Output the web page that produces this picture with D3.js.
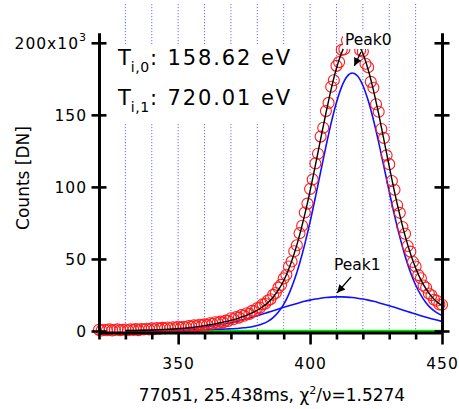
<!DOCTYPE html>
<html>
<head>
<meta charset="utf-8">
<script src="https://cdn.jsdelivr.net/npm/d3@7"></script>
<style>
	body { margin: 0; background: #fff; }
	svg { display: block; font-family: 'DejaVu Sans', sans-serif; }
</style>
</head>
<body>
<div id="chart"></div>
<script>
// measured spectrum, one point per unit starting at firstX (counts in 10^3)
const firstX = 320
const counts = [
	0.8, 0.3, 0.9, 0.5, 1.1, 0.4, 0.7, 1.2, 0.6, 0.9,
	1.0, 0.5, 1.2, 0.8, 1.3, 0.6, 1.4, 1.0, 1.6, 1.1,
	1.8, 1.2, 2.0, 1.5, 2.2, 1.7, 2.4, 1.9, 2.6, 2.0,
	2.9, 2.3, 3.0, 2.6, 3.5, 2.9, 3.9, 3.4, 4.3, 4.0,
	4.6, 4.1, 5.4, 5.0, 6.1, 5.6, 6.5, 6.0, 7.2, 6.9,
	8.9, 8.2, 9.6, 9.3, 11.0, 10.6, 12.3, 11.9, 14.0, 13.7,
	15.9, 16.2, 18.5, 18.9, 21.2, 22.0, 25.1, 26.4, 30.1, 32.0,
	36.5, 39.0, 44.8, 48.2, 55.3, 59.5, 67.9, 73.0, 82.2, 88.4,
	98.6, 105.2, 116.3, 123.0, 134.9, 141.0, 152.6, 158.3, 169.5, 174.0,
	184.0, 186.6, 195.1, 195.5, 201.8, 200.0, 203.5, 199.7, 201.2, 194.8,
	193.9, 185.5, 183.0, 172.9, 168.8, 157.4, 152.1, 140.2, 134.0, 121.9,
	115.8, 104.1, 98.0, 87.3, 82.0, 72.2, 67.5, 59.0, 55.1, 47.9,
	44.8, 38.8, 36.6, 31.6, 30.0, 26.0, 24.8, 21.7, 21.0, 18.4,
	18.2,
]

// fit curves sampled every 2 units from 330 to 450
const fitStart = 330
const fitStep = 2
const peak0 = [
	0.2, 0.2, 0.2, 0.3, 0.3, 0.3, 0.4, 0.4, 0.5, 0.5,
	0.6, 0.6, 0.7, 0.8, 0.9, 1.0, 1.1, 1.2, 1.3, 1.4,
	1.55, 1.7, 2.1, 2.4, 3.0, 3.8, 5.0, 6.7, 9.3, 13.2,
	18.5, 25.8, 35.2, 46.7, 60.3, 75.7, 92.7, 110.4, 127.9, 144.4,
	158.6, 169.6, 176.6, 179.0, 176.9, 170.4, 160.1, 146.6, 130.9, 113.9,
	96.7, 80.2, 65.3, 52.1, 41.0, 31.9, 24.9, 19.5, 15.5, 12.7,
	10.8,
]
const peak1 = [
	0.1, 0.13, 0.17, 0.22, 0.28, 0.36, 0.45, 0.56, 0.7, 0.87,
	1.07, 1.3, 1.58, 1.91, 2.28, 2.72, 3.21, 3.76, 4.39, 5.08,
	5.84, 6.68, 7.58, 8.54, 9.57, 10.64, 11.76, 12.92, 14.08, 15.25,
	16.41, 17.55, 18.63, 19.65, 20.59, 21.43, 22.15, 22.75, 23.21, 23.52,
	23.68, 23.68, 23.52, 23.21, 22.75, 22.15, 21.43, 20.59, 19.65, 18.63,
	17.55, 16.41, 15.25, 14.08, 12.92, 11.76, 10.64, 9.57, 8.54, 7.58,
	6.68,
]
const fitTotal = [
	0.3, 0.3, 0.4, 0.5, 0.6, 0.7, 0.9, 1.0, 1.2, 1.4,
	1.7, 1.9, 2.3, 2.7, 3.2, 3.7, 4.3, 5.0, 5.7, 6.5,
	7.4, 8.4, 9.7, 10.9, 12.6, 14.4, 16.8, 19.6, 23.4, 28.5,
	34.9, 43.4, 53.8, 66.4, 80.9, 97.1, 114.9, 133.2, 151.1, 167.9,
	182.3, 193.3, 200.1, 202.2, 199.7, 192.6, 181.5, 167.2, 150.6, 132.5,
	114.3, 96.6, 80.6, 66.2, 53.9, 43.7, 35.5, 29.1, 24.0, 20.3,
	17.5,
]
const baselineX = [330, 450]
const baseline = [0, 0]

const gridX = [330, 340, 350, 360, 370, 380, 390, 400, 410, 420, 430, 440]
const xTicks = [320, 330, 340, 350, 360, 370, 380, 390, 400, 410, 420, 430, 440, 450]
const xLabels = [350, 400, 450]
const yTicks = [0, 50, 100, 150, 200]

const tempLines = [
	{ sub: 'i,0', value: '158.62 eV' },
	{ sub: 'i,1', value: '720.01 eV' },
]
const peakNotes = [
	{ name: 'Peak0', at: 416, on: 179 },
	{ name: 'Peak1', at: 411, on: 23.7 },
]
const title = '77051, 25.438ms, '

const width = 459
const height = 409
const plotLeft = 99
const plotRight = 442
const plotTop = 33
const plotBottom = 331

const x = d3.scaleLinear().domain([320, 450]).range([plotLeft, plotRight])
const y = d3.scaleLinear().domain([0, 206.8]).range([plotBottom, plotTop])

const svg = d3.select('#chart').append('svg').attr('width', width).attr('height', height)

//dotted guide lines, they run above the plot frame
svg.append('g')
	.selectAll('line')
	.data(gridX)
	.join('line')
	.attr('x1', d => x(d))
	.attr('x2', d => x(d))
	.attr('y1', 4)
	.attr('y2', plotBottom)
	.attr('stroke', '#6a6aff')
	.attr('stroke-width', 1)
	.attr('stroke-dasharray', '1.2,1.8')

const fitPts = arr => arr.map((v, i) => [fitStart + i * fitStep, v])
const line = d3
	.line()
	.x(d => x(d[0]))
	.y(d => y(d[1]))
	.curve(d3.curveMonotoneX)

svg.append('path')
	.datum(baselineX.map((v, i) => [v, baseline[i]]))
	.attr('d', d3.line().x(d => x(d[0])).y(d => y(d[1])))
	.attr('fill', 'none')
	.attr('stroke', '#00e000')
	.attr('stroke-width', 2.5)

svg.append('g')
	.selectAll('path')
	.data([peak0, peak1])
	.join('path')
	.attr('d', d => line(fitPts(d)))
	.attr('fill', 'none')
	.attr('stroke', '#1010ff')
	.attr('stroke-width', 1.6)

svg.append('g')
	.selectAll('circle')
	.data(counts)
	.join('circle')
	.attr('cx', (d, i) => x(firstX + i))
	.attr('cy', d => y(d))
	.attr('r', 5.5)
	.attr('fill', 'none')
	.attr('stroke', '#ff1a1a')
	.attr('stroke-width', 1.1)

svg.append('path')
	.attr('d', line(fitPts(fitTotal)))
	.attr('fill', 'none')
	.attr('stroke', '#000')
	.attr('stroke-width', 1.4)

// annotation box with the ion temperatures
svg.append('rect').attr('x', 111).attr('y', 44).attr('width', 196).attr('height', 80).attr('fill', '#fff')
const temps = svg
	.append('g')
	.selectAll('text')
	.data(tempLines)
	.join('text')
	.attr('x', 118)
	.attr('y', (d, i) => 65 + i * 40)
	.attr('font-size', 21)
	.attr('letter-spacing', 1.9)
	.attr('fill', '#000')
temps.append('tspan').attr('letter-spacing', 0).text('T')
temps.append('tspan').attr('font-size', 14).attr('dy', 7).attr('letter-spacing', 0.6).text(d => d.sub)
temps.append('tspan').attr('dy', -7).text(d => ': ' + d.value)

// peak labels with arrows
svg.append('defs')
	.append('marker')
	.attr('id', 'head')
	.attr('viewBox', '0 0 10 10')
	.attr('refX', 10)
	.attr('refY', 5)
	.attr('markerWidth', 10)
	.attr('markerHeight', 8)
	.attr('markerUnits', 'userSpaceOnUse')
	.attr('orient', 'auto')
	.append('path')
	.attr('d', 'M0,0L10,5L0,10Z')
	.attr('fill', '#000')

const notePos = [
	{ tx: 345, ty: 45, ax: 361, ay: 52, gap: 7 },
	{ tx: 334, ty: 270, ax: 351, ay: 277, gap: 4 },
]
peakNotes.forEach((p, i) => {
	const pos = notePos[i]
	const g = svg.append('g')
	const t = g.append('text')
		.attr('x', pos.tx)
		.attr('y', pos.ty)
		.attr('font-size', 15.5)
		.text(p.name)
	const bb = t.node().getBBox()
	g.insert('rect', 'text')
		.attr('x', bb.x - 2)
		.attr('y', bb.y)
		.attr('width', bb.width + 4)
		.attr('height', bb.height)
		.attr('fill', '#fff')
	g.append('line')
		.attr('x1', pos.ax)
		.attr('y1', pos.ay)
		.attr('x2', x(p.at) + (i === 0 ? 2 : -2))
		.attr('y2', y(p.on) - pos.gap)
		.attr('stroke', '#000')
		.attr('stroke-width', 1.3)
		.attr('marker-end', 'url(#head)')
})

// axes
const styleAxis = g => {
	g.select('.domain').attr('stroke-width', 3)
	g.selectAll('.tick line').attr('stroke-width', 2.6)
	g.selectAll('.tick text').attr('font-family', "'DejaVu Sans', sans-serif").attr('font-size', 15.5).attr('letter-spacing', 1).attr('fill', '#000')
}

const yFormat = d => (d === 200 ? '200x10' : d)
svg.append('g')
	.attr('transform', `translate(${plotLeft},0)`)
	.call(d3.axisLeft(y).tickValues(yTicks).tickSize(7.5).tickSizeOuter(0).tickFormat(yFormat))
	.call(styleAxis)
	.call(g => g.selectAll('.tick text').attr('x', -12).attr('dy', '0.36em'))
	.call(g => g.selectAll('.tick text').filter(d => d === 200).append('tspan').attr('dy', -8).attr('font-size', 11).text('3'))
svg.append('g')
	.attr('transform', `translate(${plotLeft},0)`)
	.call(d3.axisRight(y).tickValues(yTicks).tickSize(7.5).tickSizeOuter(0).tickFormat(''))
	.call(styleAxis)

svg.append('g')
	.attr('transform', `translate(${plotRight},0)`)
	.call(d3.axisRight(y).tickValues(yTicks).tickSize(7.5).tickSizeOuter(0).tickFormat(''))
	.call(styleAxis)
svg.append('g')
	.attr('transform', `translate(${plotRight},0)`)
	.call(d3.axisLeft(y).tickValues(yTicks).tickSize(7.5).tickSizeOuter(0).tickFormat(''))
	.call(styleAxis)

svg.append('g')
	.attr('transform', `translate(0,${plotBottom + 1.5})`)
	.call(d3.axisBottom(x).tickValues(xTicks).tickSize(7).tickSizeOuter(0).tickFormat(d => (xLabels.includes(d) ? d : '')))
	.call(styleAxis)
	.call(g => g.selectAll('.tick line').filter(d => xLabels.includes(d)).attr('y2', 12))
	.call(g => g.selectAll('.tick text').attr('y', 36).attr('dy', 0))

// axis titles
svg.append('text')
	.attr('transform', `translate(29,178) rotate(-90)`)
	.attr('text-anchor', 'middle')
	.attr('font-size', 17)
	.text('Counts [DN]')

const bottomTitle = svg.append('text')
	.attr('x', 272)
	.attr('y', 401)
	.attr('text-anchor', 'middle')
	.attr('font-size', 17)
bottomTitle.append('tspan').text(title + 'χ')
bottomTitle.append('tspan').attr('dy', -7).attr('font-size', 11).text('2')
bottomTitle.append('tspan').attr('dy', 7).text('/ν=1.5274')
</script>
</body>
</html>
